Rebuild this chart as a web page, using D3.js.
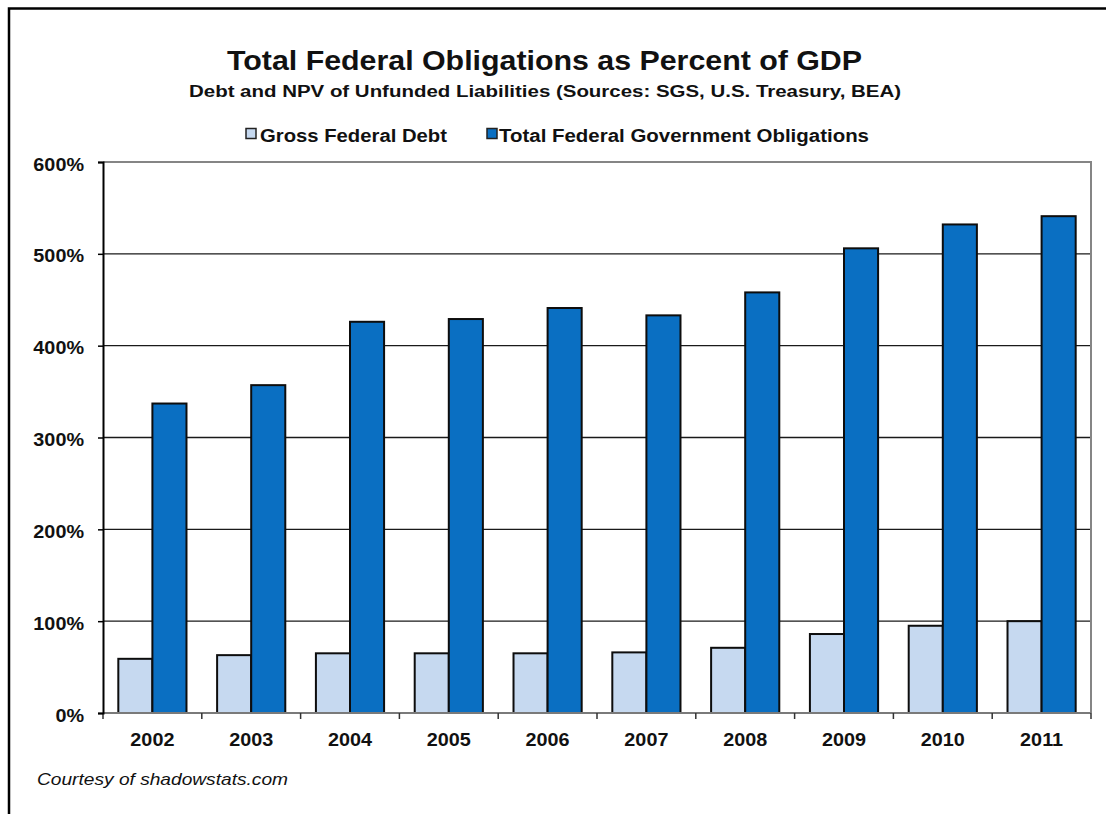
<!DOCTYPE html>
<html>
<head>
<meta charset="utf-8">
<script src="https://cdn.jsdelivr.net/npm/d3@7"></script>
<style>
  html, body { margin: 0; padding: 0; background: #fff; }
  svg { display: block; }
  text { font-family: "Liberation Sans", Arial, sans-serif; fill: #111; }
</style>
</head>
<body>
<svg id="chart" width="1106" height="814"></svg>
<script>
// Fiscal years shown on the category axis
const years = ["2002", "2003", "2004", "2005", "2006", "2007", "2008", "2009", "2010", "2011"];
// Gross federal debt, percent of GDP
const grossDebt = [59, 63, 65, 65, 65, 66, 71, 86, 95, 100];
// Total federal government obligations (debt + NPV of unfunded liabilities), percent of GDP
const totalObligations = [337, 357, 426, 429, 441, 433, 458, 506, 532, 541];
// Value axis ticks
const yTicks = [0, 100, 200, 300, 400, 500, 600];
// Series names and fills
const seriesNames = ["Gross Federal Debt", "Total Federal Government Obligations"];
const seriesColors = ["#c6d9f0", "#0a6fc2"];

const svg = d3.select("#chart");
const W = 1106, H = 814;
const plot = { left: 103, right: 1091, top: 162, bottom: 713 };

// Outer frame (left and top edges)
svg.append("path")
  .attr("d", `M9,${H} L9,8.5 L${W},8.5`)
  .attr("fill", "none").attr("stroke", "#000").attr("stroke-width", 2.5);

// Scales
const x = d3.scaleBand().domain(years)
  .range([plot.left, plot.right])
  .paddingInner(0.31).paddingOuter(0.155);
const xSub = d3.scaleBand().domain([0, 1]).range([0, x.bandwidth()]);
const y = d3.scaleLinear().domain([0, 600]).range([plot.bottom, plot.top]);

// Horizontal gridlines
svg.append("g").selectAll("line")
  .data(yTicks.filter(d => d > 0 && d < 600))
  .join("line")
  .attr("x1", plot.left).attr("x2", plot.right)
  .attr("y1", d => y(d)).attr("y2", d => y(d))
  .attr("stroke", "#1a1a1a").attr("stroke-width", 1.3);

// Plot frame: top and right edges in gray
svg.append("path")
  .attr("d", `M${plot.left},${y(600)} L${plot.right},${y(600)} L${plot.right},${plot.bottom}`)
  .attr("fill", "none").attr("stroke", "#858585").attr("stroke-width", 2);

// Bars
const rows = years.map((yr, i) => ({ year: yr, values: [grossDebt[i], totalObligations[i]] }));
const groups = svg.append("g").selectAll("g")
  .data(rows).join("g")
  .attr("transform", d => `translate(${x(d.year)},0)`);
groups.selectAll("rect")
  .data(d => d.values.map((v, k) => ({ v, k })))
  .join("rect")
  .attr("x", d => xSub(d.k))
  .attr("width", xSub.bandwidth())
  .attr("y", d => y(d.v))
  .attr("height", d => y(0) - y(d.v))
  .attr("fill", d => seriesColors[d.k])
  .attr("stroke", "#0d0d0d").attr("stroke-width", 2);

// Category axis: gray baseline, ticks at category boundaries, centered year labels
const xAxis = svg.append("g").attr("transform", `translate(0,${plot.bottom})`);
xAxis.append("line")
  .attr("x1", plot.left).attr("x2", plot.right)
  .attr("stroke", "#7a7a7a").attr("stroke-width", 2);
const boundaries = d3.range(years.length + 1).map(i => plot.left + i * x.step());
xAxis.selectAll("line.tick")
  .data(boundaries).join("line").attr("class", "tick")
  .attr("x1", d => d).attr("x2", d => d)
  .attr("y1", 0).attr("y2", 6)
  .attr("stroke", "#333").attr("stroke-width", 1.5);
xAxis.selectAll("text")
  .data(years).join("text")
  .attr("class", "wide")
  .attr("x", d => x(d) + x.bandwidth() / 2)
  .attr("y", 33)
  .attr("text-anchor", "middle")
  .attr("font-weight", "bold")
  .attr("font-size", 18)
  .text(d => d);

// Value axis
const yAxis = svg.append("g")
  .attr("transform", `translate(${plot.left},0)`)
  .call(d3.axisLeft(y).tickValues(yTicks).tickFormat(d => d + "%").tickSize(5).tickPadding(14));
yAxis.select(".domain").attr("stroke", "#000").attr("stroke-width", 2);
yAxis.selectAll(".tick line").attr("stroke", "#000").attr("stroke-width", 1.5);
yAxis.selectAll(".tick text")
  .attr("class", "wide")
  .attr("font-family", "'Liberation Sans', Arial, sans-serif")
  .attr("font-weight", "bold")
  .attr("font-size", 18)
  .attr("dy", "0.45em")
  .attr("fill", "#111");

// Title block
svg.append("text")
  .attr("x", 227).attr("y", 70)
  .attr("font-size", 28).attr("font-weight", "bold")
  .attr("textLength", 635).attr("lengthAdjust", "spacingAndGlyphs")
  .text("Total Federal Obligations as Percent of GDP");
svg.append("text")
  .attr("x", 189).attr("y", 96.5)
  .attr("font-size", 16).attr("font-weight", "bold")
  .attr("textLength", 712).attr("lengthAdjust", "spacingAndGlyphs")
  .text("Debt and NPV of Unfunded Liabilities (Sources: SGS, U.S. Treasury, BEA)");

// Legend
const legendItems = [
  { sx: 246, tx: 260, len: 187 },
  { sx: 487, tx: 499, len: 370 }
];
legendItems.forEach((it, k) => {
  svg.append("rect")
    .attr("x", it.sx).attr("y", 128.5).attr("width", 10).attr("height", 10)
    .attr("fill", seriesColors[k]).attr("stroke", "#222").attr("stroke-width", 1.5);
  svg.append("text")
    .attr("x", it.tx).attr("y", 142)
    .attr("font-size", 18).attr("font-weight", "bold")
    .attr("textLength", it.len).attr("lengthAdjust", "spacingAndGlyphs")
    .text(seriesNames[k]);
});

// Credit line
svg.append("text")
  .attr("x", 37).attr("y", 785)
  .attr("font-family", "Lato, 'Open Sans', sans-serif")
  .attr("font-style", "italic")
  .attr("font-size", 17)
  .attr("textLength", 251).attr("lengthAdjust", "spacingAndGlyphs")
  .text("Courtesy of shadowstats.com");

// Axis labels in this style run slightly wide
svg.selectAll("text.wide").each(function () {
  const len = this.getComputedTextLength();
  d3.select(this).attr("textLength", len * 1.1).attr("lengthAdjust", "spacingAndGlyphs");
});
</script>
</body>
</html>
